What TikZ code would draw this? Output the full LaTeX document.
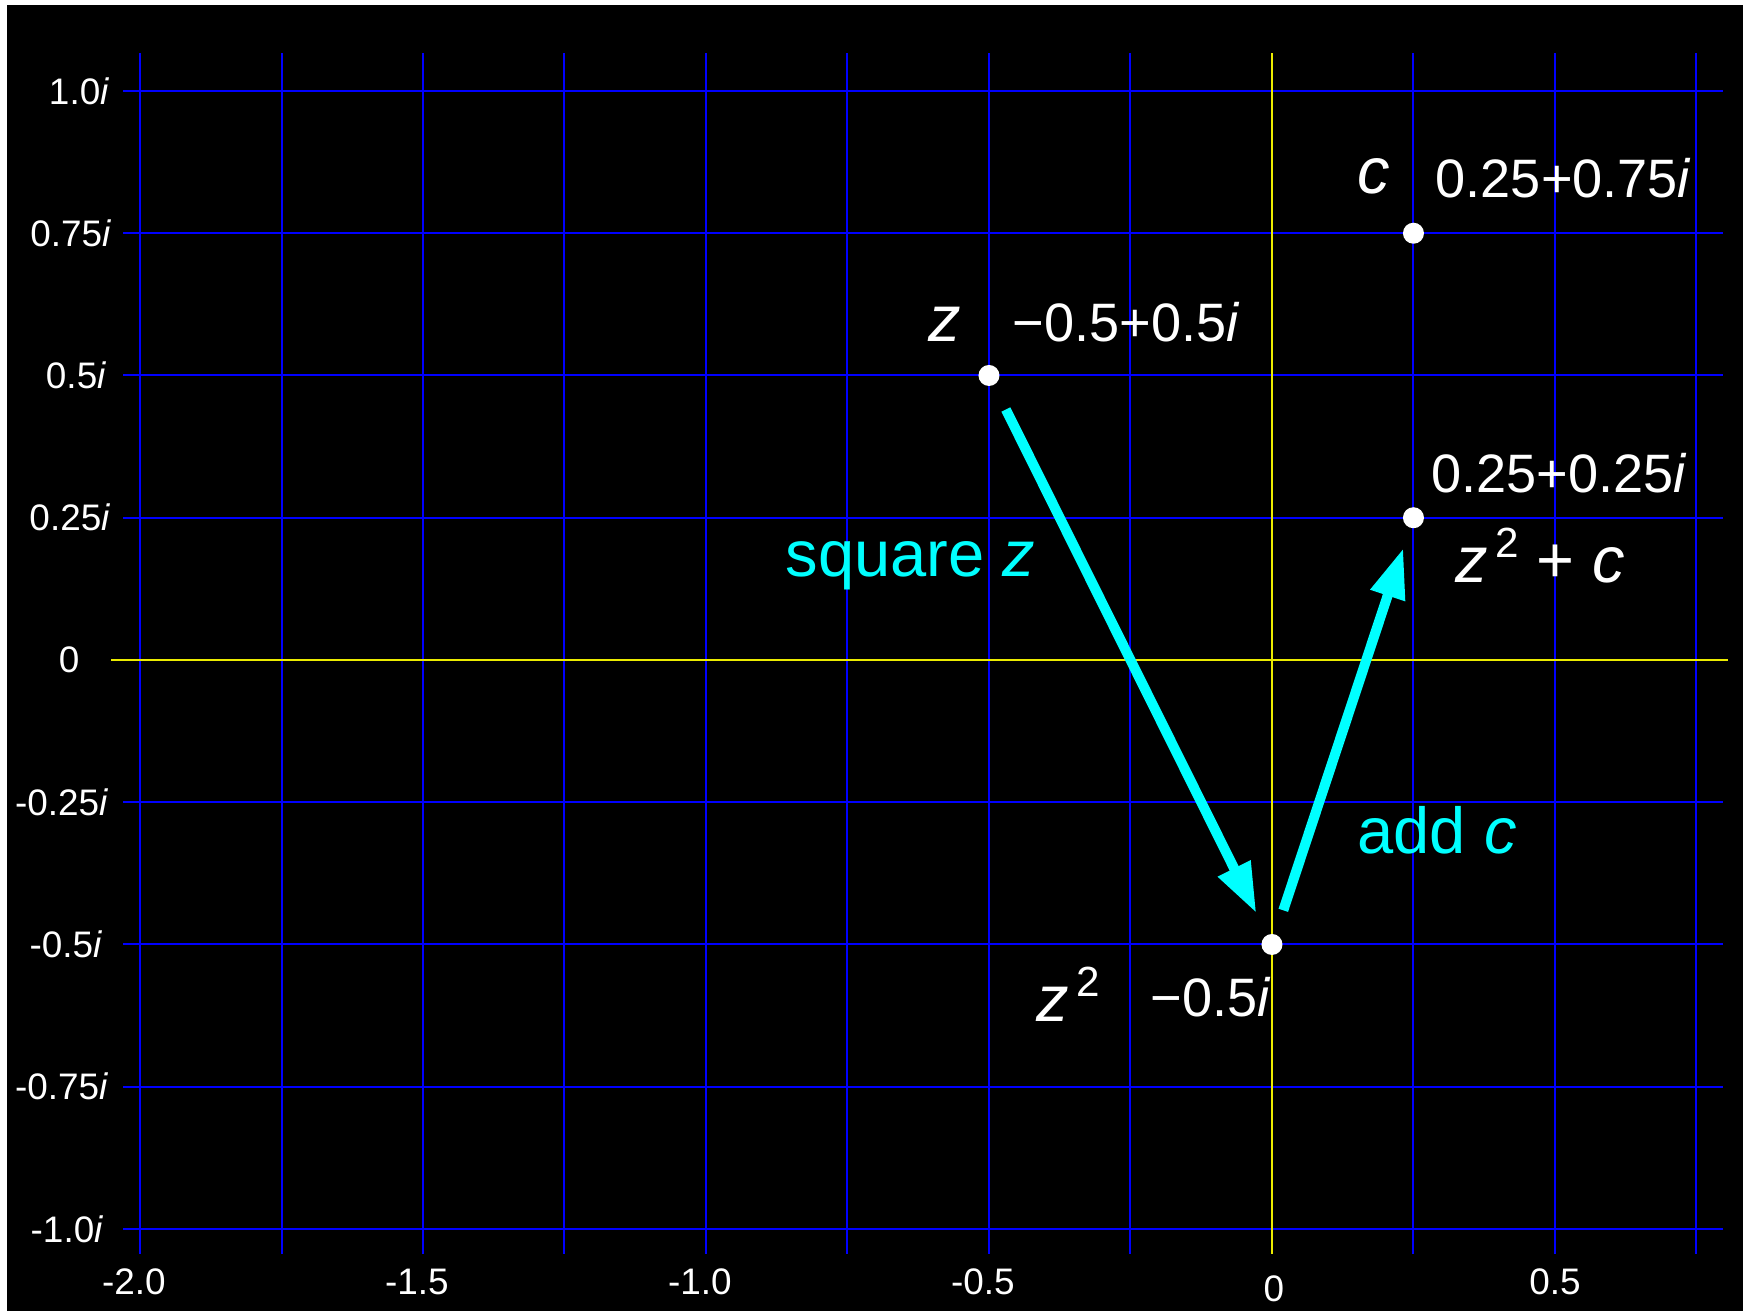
\documentclass[tikz,border=0pt]{standalone}
\usepackage{fontspec}
\setmainfont{Liberation Sans}
\usetikzlibrary{arrows.meta}
\definecolor{aqua}{RGB}{0,255,255}
\definecolor{gridblue}{RGB}{0,0,255}
\definecolor{axisyellow}{RGB}{235,235,0}
\newcommand\axisfont{\fontsize{10.5}{12}\selectfont}
\newcommand\valfont{\fontsize{15.4}{18}\selectfont}
\newcommand\lblfont{\fontsize{18.5}{22}\selectfont}
\newcommand\sqtwo{\kern0.07cm\raisebox{0.255cm}{\fontsize{12}{12}\selectfont 2}}
\begin{document}
\begin{tikzpicture}[x=5.66cm, y=5.69cm,
    gridline/.style={gridblue, line width=0.02cm},
    axisline/.style={axisyellow, line width=0.015cm},
    dot/.style={circle, fill=white, minimum size=0.21cm, inner sep=0pt},
    vec/.style={aqua, line width=0.1cm, -{Triangle[length=0.5cm, width=0.34cm]}},
    axislabel/.style={white, inner sep=0pt, font=\axisfont},
    vallabel/.style={white, inner sep=0pt, anchor=base west, font=\valfont},
    bigwhite/.style={white, inner sep=0pt, anchor=base west, font=\lblfont},
    biglabel/.style={aqua, inner sep=0pt, anchor=base west, font=\lblfont}]
    \useasboundingbox[fill=white] (-2.2474, -1.1441) rectangle (0.8322, 1.1599);
    \fill[black] (-2.2350, -1.1441) rectangle (0.8322, 1.1511);
    \foreach \x in {-2, -1.75, -1.5, -1.25, -1, -0.75, -0.5, -0.25, 0.25, 0.5, 0.75}
        \draw[gridline] (\x, -1.0439) -- (\x, 1.0668);
    \foreach \y in {-1, -0.75, -0.5, -0.25, 0.25, 0.5, 0.75, 1}
        \draw[gridline] (-2.030, \y) -- (0.7968, \y);
    \draw[axisline] (-2.051, 0) -- (0.806, 0);
    \draw[axisline] (0, -1.0439) -- (0, 1.0668);
    \foreach \y/\t/\xe [count=\i] in {1/{1.0\textit{i}}/-2.053, 0.75/{0.75\textit{i}}/-2.0495,
        0.5/{0.5\textit{i}}/-2.0583, 0.25/{0.25\textit{i}}/-2.0512, 0/0/-2.106,
        -0.25/{-0.25\textit{i}}/-2.0548, -0.5/{-0.5\textit{i}}/-2.0654,
        -0.75/{-0.75\textit{i}}/-2.0548, -1/{-1.0\textit{i}}/-2.0636}
        \node[axislabel, anchor=east] (ylab\i) at (\xe, \y) {\t};
    \foreach \x/\t [count=\i] in {-2/{\llap{-}2.0}, -1.5/{\llap{-}1.5}, -1/{\llap{-}1.0},
        -0.5/{\llap{-}0.5}, 0.5/0.5}
        \node[axislabel] (xlab\i) at (\x, -1.0931) {\t};
    \node[axislabel] (xlab0) at (0.0035, -1.1054) {0};
    \node[dot] (z) at (-0.5, 0.5) {};
    \node[dot] (c) at (0.25, 0.75) {};
    \node[dot] (zsq) at (0, -0.5) {};
    \node[dot] (zsqc) at (0.25, 0.25) {};
    \draw[vec, shorten <=0.38cm, shorten >=0.35cm] (z.center) -- (zsq.center);
    \draw[vec, shorten <=0.36cm, shorten >=0.32cm] (zsq.center) -- (zsqc.center);
    \node[bigwhite] (zlab) at (-0.6078, 0.5589) {\textit{z}};
    \node[vallabel] (zval) at (-0.4594, 0.5589) {−0.5+0.5\textit{i}};
    \node[bigwhite] (clab) at (0.1502, 0.8207) {\textit{c}};
    \node[vallabel] (cval) at (0.2880, 0.8120) {0.25+0.75\textit{i}};
    \node[vallabel] (zsqcval) at (0.2809, 0.2935) {0.25+0.25\textit{i}};
    \node[bigwhite] (zsqclab) at (0.3233, 0.1353) {\textit{z}\sqtwo{} + \textit{c}};
    \node[bigwhite] (zsqlab) at (-0.4170, -0.6362) {\textit{z}\sqtwo};
    \node[vallabel] (zsqval) at (-0.2155, -0.6274) {−0.5\textit{i}};
    \node[biglabel] (sqlab) at (-0.8604, 0.1459) {square \textit{z}};
    \node[biglabel] (addlab) at (0.1502, -0.3409) {add \textit{c}};
\end{tikzpicture}
\end{document}
